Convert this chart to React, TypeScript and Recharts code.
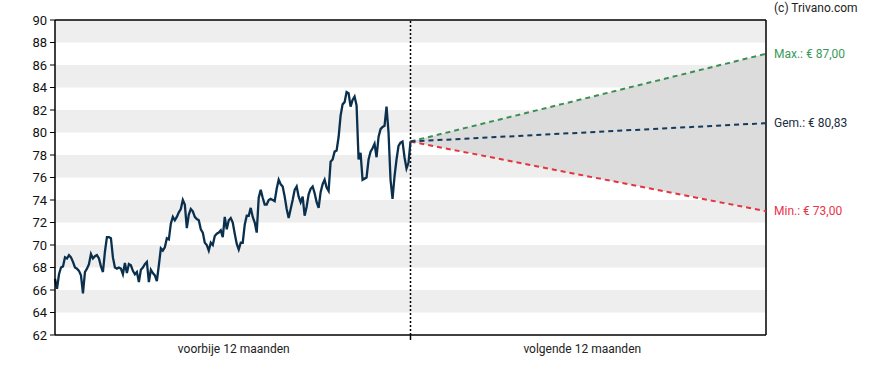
import React from 'react';
import {
  ComposedChart,
  Line,
  Area,
  XAxis,
  YAxis,
  ReferenceArea,
  ReferenceLine,
} from 'recharts';

// closing prices over the past 12 months (evenly spaced)
const prices = [
  67.0, 66.1, 67.4, 68.0, 68.1, 68.9, 68.8, 69.1, 68.9, 68.5,
  68.0, 67.9, 67.7, 67.3, 65.7, 67.6, 67.9, 68.3, 69.2, 68.8,
  69.0, 69.1, 68.8, 68.1, 67.6, 69.4, 70.7, 70.7, 70.6, 68.9,
  68.0, 67.9, 68.0, 67.9, 67.4, 68.4, 67.5, 68.3, 68.2, 67.7,
  67.4, 67.6, 66.7, 67.8, 68.0, 68.3, 68.5, 66.7, 67.8, 67.5,
  67.3, 66.8, 68.2, 69.7, 69.5, 69.8, 70.6, 70.5, 71.9, 72.5,
  72.2, 72.5, 72.9, 73.2, 74.0, 73.6, 71.5, 72.7, 73.2, 73.0,
  72.5, 72.3, 72.2, 71.4, 71.1, 70.2, 70.0, 69.5, 70.2, 70.0,
  70.8, 71.0, 71.1, 71.3, 70.7, 72.5, 71.4, 72.2, 72.4, 72.0,
  71.0, 70.1, 69.6, 70.2, 70.2, 71.8, 72.6, 72.6, 73.3, 72.5,
  72.0, 71.1, 74.2, 74.9, 74.2, 73.6, 73.6, 74.0, 74.1, 74.0,
  73.9, 75.0, 75.8, 75.4, 75.2, 74.3, 73.2, 72.4, 73.2, 74.0,
  74.9, 75.2, 74.3, 73.8, 74.3, 72.6, 73.4, 74.5, 75.0, 75.2,
  74.6, 73.8, 73.3, 74.7, 75.4, 75.8, 75.1, 74.8, 77.4, 77.6,
  78.3, 78.4, 79.6, 81.5, 82.5, 82.7, 83.6, 83.5, 82.3, 82.9,
  83.2, 82.4, 77.6, 78.2, 75.8, 75.9, 76.0, 77.6, 78.3, 78.6,
  79.0, 77.8, 79.6, 80.3, 80.5, 80.6, 82.3, 80.0, 75.8, 74.1,
  76.1, 77.6, 78.8, 79.1, 79.2, 77.8, 76.8, 77.3, 79.2,
];

// 12-month forecast end values
const forecastMax = 87.0;
const forecastAvg = 80.83;
const forecastMin = 73.0;

const yTicks = [62, 64, 66, 68, 70, 72, 74, 76, 78, 80, 82, 84, 86, 88, 90];
const bands = [
  [64, 66],
  [68, 70],
  [72, 74],
  [76, 78],
  [80, 82],
  [84, 86],
  [88, 90],
];
const periodLabels: Record<number, string> = {
  6: 'voorbije 12 maanden',
  18: 'volgende 12 maanden',
};

const last = prices[prices.length - 1];
const data: any[] = prices.map((p, i) => ({ t: (i * 12) / (prices.length - 1), price: p }));
data[data.length - 1] = {
  ...data[data.length - 1],
  max: last,
  avg: last,
  min: last,
  range: [last, last],
};
data.push({
  t: 24,
  max: forecastMax,
  avg: forecastAvg,
  min: forecastMin,
  range: [forecastMin, forecastMax],
});

const fmt = (v: number) => v.toFixed(2).replace('.', ',');

const XTick = (props: any) => {
  const { x, y, payload } = props;
  if (payload.value === 12) {
    return <line x1={x} x2={x} y1={y - 5} y2={y} stroke="#000" strokeWidth={1.5} />;
  }
  return (
    <text
      x={x + (payload.value === 18 ? -6 : 1)}
      y={y + 13}
      textAnchor="middle"
      fontSize={12}
      fill="#222"
      fontFamily="Roboto"
    >
      {periodLabels[payload.value]}
    </text>
  );
};

const endLabel = (prefix: string, color: string) => (props: any) => {
  const { x, y, index, value } = props;
  if (index !== data.length - 1) return null;
  return (
    <text x={x + 8} y={y + 4} fontSize={12} fill={color} fontFamily="Roboto">
      {`${prefix}: € ${fmt(value)}`}
    </text>
  );
};

export default function App() {
  return (
    <div style={{ position: 'absolute', left: 0, top: 0, width: 888, height: 370, background: '#fff' }}>
      <ComposedChart
        width={888}
        height={370}
        data={data}
        margin={{ top: 20, right: 122, bottom: 5, left: 0 }}
      >
        {bands.map(([a, b]) => (
          <ReferenceArea key={a} y1={a} y2={b} x1={0} x2={24} fill="#eeeeee" fillOpacity={1} stroke="none" />
        ))}
        <XAxis
          dataKey="t"
          type="number"
          domain={[0, 24]}
          ticks={[6, 12, 18]}
          tick={<XTick />}
          tickLine={false}
          tickSize={5}
          tickMargin={0}
          height={30}
          axisLine={{ stroke: '#000', strokeWidth: 1.5 }}
          interval={0}
        />
        <YAxis
          type="number"
          domain={[62, 90]}
          ticks={yTicks}
          width={55}
          interval={0}
          tickSize={5}
          tickMargin={3}
          tickLine={{ stroke: '#000', strokeWidth: 1 }}
          axisLine={{ stroke: '#000', strokeWidth: 1.5 }}
          tick={{ fill: '#111', fontSize: 13, fontFamily: 'Roboto' }}
        />
        <Area
          dataKey="range"
          stroke="none"
          fill="#dcdcdc"
          fillOpacity={1}
          isAnimationActive={false}
          dot={false}
          activeDot={false}
        />
        <ReferenceLine x={12} stroke="#000" strokeWidth={1.5} strokeDasharray="2 2" />
        <ReferenceLine y={90} stroke="#000" strokeWidth={1.5} />
        <ReferenceLine x={24} stroke="#000" strokeWidth={1.5} />
        <Line
          dataKey="price"
          stroke="#0b304d"
          strokeWidth={2.3}
          dot={false}
          isAnimationActive={false}
        />
        <Line
          dataKey="max"
          stroke="#3b8f55"
          strokeWidth={2}
          strokeDasharray="5 4"
          dot={false}
          isAnimationActive={false}
          label={endLabel('Max.', '#3a9a5b')}
        />
        <Line
          dataKey="min"
          stroke="#e3343f"
          strokeWidth={2}
          strokeDasharray="5 4"
          dot={false}
          isAnimationActive={false}
          label={endLabel('Min.', '#e8334a')}
        />
        <Line
          dataKey="avg"
          stroke="#153a5b"
          strokeWidth={2}
          strokeDasharray="5 4"
          dot={false}
          isAnimationActive={false}
          label={endLabel('Gem.', '#1b2c40')}
        />
      </ComposedChart>
      <div
        style={{
          position: 'absolute',
          left: 774,
          top: 1,
          fontSize: 12,
          fontFamily: 'Roboto',
          color: '#222',
        }}
      >
        (c) Trivano.com
      </div>
    </div>
  );
}
